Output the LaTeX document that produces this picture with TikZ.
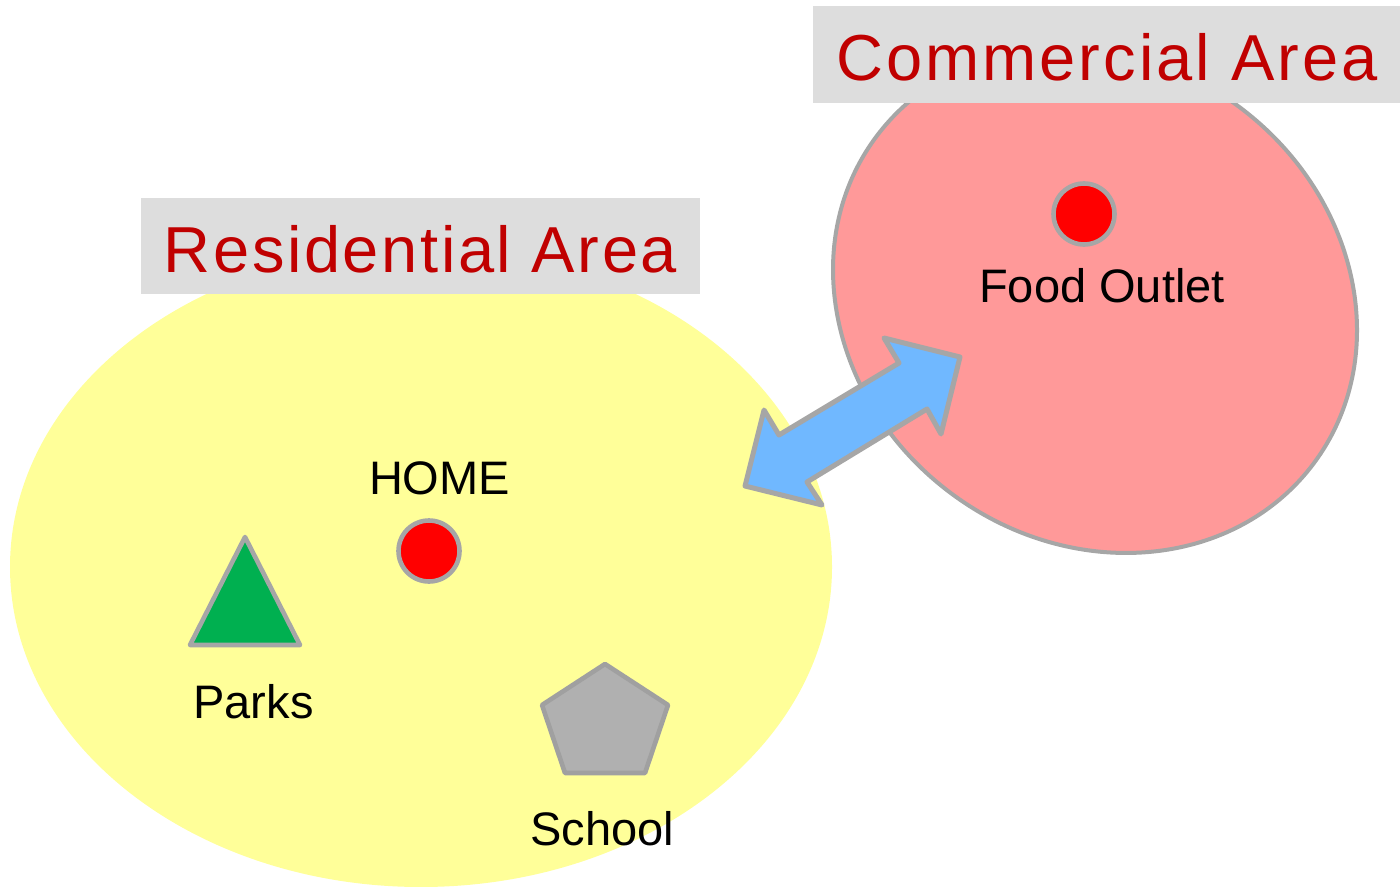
\documentclass[tikz,border=0pt]{standalone}
\usepackage{fontspec}
\setmainfont{Liberation Sans}
\newfontfamily\titlefont[LetterSpace=4]{Liberation Sans}
\newfontfamily\widetitlefont[LetterSpace=4.6]{Liberation Sans}

\definecolor{zoneyellow}{HTML}{FFFF99}
\definecolor{zonepink}{HTML}{FF9999}
\definecolor{edgegray}{HTML}{A6A6A6}
\definecolor{arrowblue}{HTML}{70B8FF}
\definecolor{parkgreen}{HTML}{00B050}
\definecolor{dotred}{HTML}{FF0000}
\definecolor{pentfill}{HTML}{B0B0B0}
\definecolor{pentedge}{HTML}{A0A0A0}
\definecolor{boxgray}{HTML}{DDDDDD}
\definecolor{titlered}{HTML}{C00000}

\begin{document}
\begin{tikzpicture}[x=0.5pt,y=-0.5pt,
  outline/.style={draw=edgegray, line width=2.3pt, line join=round},
  placedot/.style={circle, outline, fill=dotred, minimum size=30.5pt, inner sep=0pt},
  placetext/.style={font=\fontsize{23.5}{28}\selectfont, text=black, inner sep=0pt, anchor=base},
  titlebox/.style={fill=boxgray, draw=none, inner sep=0pt},
  titletext/.style={font=\titlefont\fontsize{32.5}{38}\selectfont, text=titlered, inner sep=0pt, anchor=base},
]
\useasboundingbox (0,0) rectangle (1400,887);

% the two zones
\fill[zoneyellow] (421,567) ellipse [x radius=411, y radius=320];
\draw[outline, line width=2pt, fill=zonepink, shift={(1095,300)}, rotate=-36.8]
  (0,0) ellipse [x radius=273, y radius=241];

% two-way block arrow between the zones
\coordinate (ltip) at (745,486);
\coordinate (rtip) at (960,357);
\draw[outline, line width=2.5pt, fill=arrowblue]
  (ltip) -- (764,410) -- (779,435) -- (899,363) -- (884,338) -- (rtip)
  -- (941,434) -- (927,409) -- (807,482) -- (822,505) -- cycle;

% places in the residential area
\node[placedot] (home) at (429,551) {};
\node[placetext] (homelbl) at (439.5,494) {HOME};

\coordinate (parktop) at (245,537);
\coordinate (parkright) at (300,645);
\coordinate (parkleft) at (190,645);
\draw[outline, fill=parkgreen] (parktop) -- (parkright) -- (parkleft) -- cycle;
\node[placetext] (parkslbl) at (253.5,718) {Parks};

\coordinate (schooltop) at (605,664);
\draw[outline, draw=pentedge, fill=pentfill]
  (schooltop) -- (668,705) -- (645,773) -- (565,773) -- (542,705) -- cycle;
\node[placetext] (schoollbl) at (602,845) {School};

% place in the commercial area
\node[placedot] (food) at (1084,214) {};
\node[placetext] (foodlbl) at (1102,302) {Food Outlet};

% zone titles
\node[titlebox, minimum width=279.5pt, minimum height=48pt] (resbox) at (420.5,246) {};
\node[titletext] (restitle) at (420.5,272) {Residential Area};
\node[titlebox, minimum width=293.5pt, minimum height=48.5pt] (combox) at (1106.5,54.5) {};
\node[titletext, font=\widetitlefont\fontsize{32.5}{38}\selectfont] (comtitle) at (1107,80.5) {Commercial Area};
\end{tikzpicture}
\end{document}
